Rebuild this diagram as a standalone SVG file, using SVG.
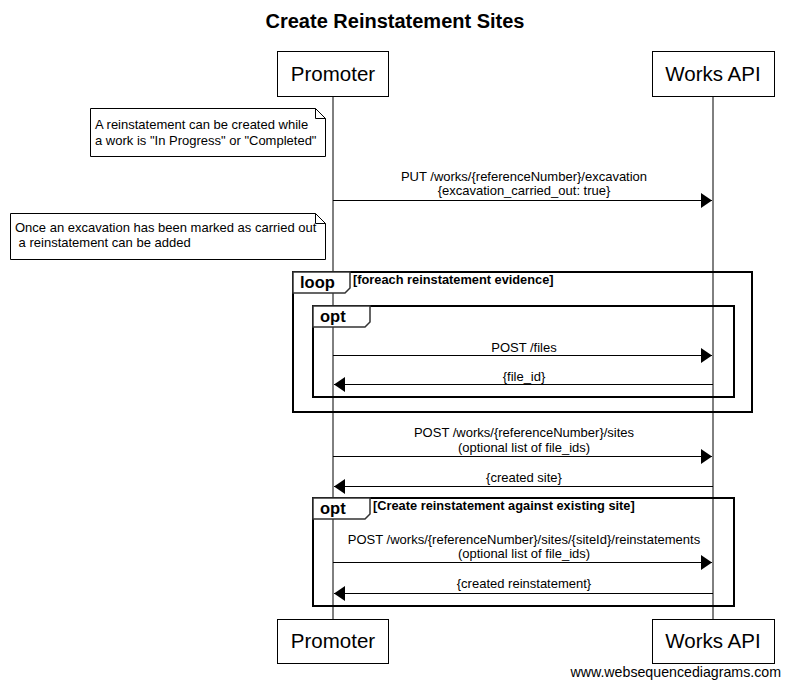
<svg xmlns="http://www.w3.org/2000/svg" width="790" height="688" viewBox="0 0 790 688">
<defs>
<marker id="ah" markerWidth="11" markerHeight="15" refX="11" refY="7.5" orient="auto" markerUnits="userSpaceOnUse">
<path d="M0,0 L11,7.5 L0,15 Z" fill="#000"/>
</marker>
<style>
text{font-family:"Liberation Sans",Arial,sans-serif;fill:#000}
.title{font-size:20px;font-weight:bold}
.actor{font-size:20.5px}
.msg{font-size:13px}
.note{font-size:13px}
.frl{font-size:16.5px;font-weight:bold}
.cond{font-size:12.8px;font-weight:bold}
.box{fill:#fff;stroke:#000;stroke-width:1}
.life{stroke:#000;stroke-width:1}
.arr{stroke:#000;stroke-width:1;fill:none;marker-end:url(#ah)}
.frame{fill:none;stroke:#000;stroke-width:2}
.tab{fill:#fff;stroke:#333;stroke-width:1.5}
</style>
</defs>
<rect width="790" height="688" fill="#fff"/>
<text class="title" x="395" y="28" text-anchor="middle">Create Reinstatement Sites</text>

<g id="lifelines">
<line class="life" x1="333" y1="96" x2="333" y2="619"/>
<line class="life" x1="713" y1="96" x2="713" y2="619"/>
</g>

<g id="promoter">
<rect class="box" x="277.5" y="51.5" width="111" height="45"/>
<text class="actor" x="333" y="81" text-anchor="middle">Promoter</text>
</g>
<g id="works-api">
<rect class="box" x="652.5" y="51.5" width="122" height="45"/>
<text class="actor" x="713" y="81" text-anchor="middle">Works API</text>
</g>
<g id="promoter-bottom">
<rect class="box" x="277.5" y="619.5" width="111" height="44"/>
<text class="actor" x="333" y="648" text-anchor="middle">Promoter</text>
</g>
<g id="works-api-bottom">
<rect class="box" x="652.5" y="619.5" width="122" height="44"/>
<text class="actor" x="713" y="648" text-anchor="middle">Works API</text>
</g>

<g id="note1">
<path class="box" d="M90.5,108.5 H315.5 L325.5,118.5 V156.5 H90.5 Z"/>
<path d="M315.5,108.5 V118.5 H325.5" fill="none" stroke="#000"/>
<text class="note" x="95" y="129">A reinstatement can be created while</text>
<text class="note" x="95" y="145">a work is "In Progress" or "Completed"</text>
</g>
<g id="note2">
<path class="box" d="M10.5,213.5 H315.5 L325.5,223.5 V259.5 H10.5 Z"/>
<path d="M315.5,213.5 V223.5 H325.5" fill="none" stroke="#000"/>
<text class="note" x="15" y="232" xml:space="preserve">Once an excavation has been marked as carried out</text>
<text class="note" x="15" y="247" xml:space="preserve"> a reinstatement can be added</text>
</g>

<g id="loop-frame">
<rect class="frame" x="293" y="272" width="459" height="140"/>
<path class="tab" d="M293,272 H350 V288 L345,293 H293 Z"/>
<text class="frl" x="300" y="288">loop</text>
<text class="cond" x="353" y="284">[foreach reinstatement evidence]</text>
</g>
<g id="opt-frame-1">
<rect class="frame" x="313" y="306" width="421" height="91"/>
<path class="tab" d="M313,306 H370 V322 L365,327 H313 Z"/>
<text class="frl" x="320" y="322">opt</text>
</g>
<g id="opt-frame-2">
<rect class="frame" x="313" y="498" width="421" height="108"/>
<path class="tab" d="M313,498 H370 V514 L365,519 H313 Z"/>
<text class="frl" x="320" y="514">opt</text>
<text class="cond" x="373" y="510">[Create reinstatement against existing site]</text>
</g>

<g id="connectors">
<line class="arr" x1="333" y1="200.5" x2="712" y2="200.5"/>
<text class="msg" x="524" y="181" text-anchor="middle">PUT /works/{referenceNumber}/excavation</text>
<text class="msg" x="524" y="195" text-anchor="middle">{excavation_carried_out: true}</text>

<line class="arr" x1="333" y1="355.5" x2="712" y2="355.5"/>
<text class="msg" x="524" y="352" text-anchor="middle">POST /files</text>

<line class="arr" x1="713" y1="384.5" x2="334" y2="384.5"/>
<text class="msg" x="524" y="381" text-anchor="middle">{file_id}</text>

<line class="arr" x1="333" y1="456.5" x2="712" y2="456.5"/>
<text class="msg" x="524" y="437" text-anchor="middle">POST /works/{referenceNumber}/sites</text>
<text class="msg" x="524" y="452" text-anchor="middle">(optional list of file_ids)</text>

<line class="arr" x1="713" y1="486.5" x2="334" y2="486.5"/>
<text class="msg" x="524" y="482" text-anchor="middle">{created site}</text>

<line class="arr" x1="333" y1="562.5" x2="712" y2="562.5"/>
<text class="msg" x="524" y="544" text-anchor="middle">POST /works/{referenceNumber}/sites/{siteId}/reinstatements</text>
<text class="msg" x="524" y="558" text-anchor="middle">(optional list of file_ids)</text>

<line class="arr" x1="713" y1="593.5" x2="334" y2="593.5"/>
<text class="msg" x="524" y="588" text-anchor="middle">{created reinstatement}</text>
</g>

<text x="781" y="677" text-anchor="end" style="font-size:14.2px">www.websequencediagrams.com</text>
</svg>
